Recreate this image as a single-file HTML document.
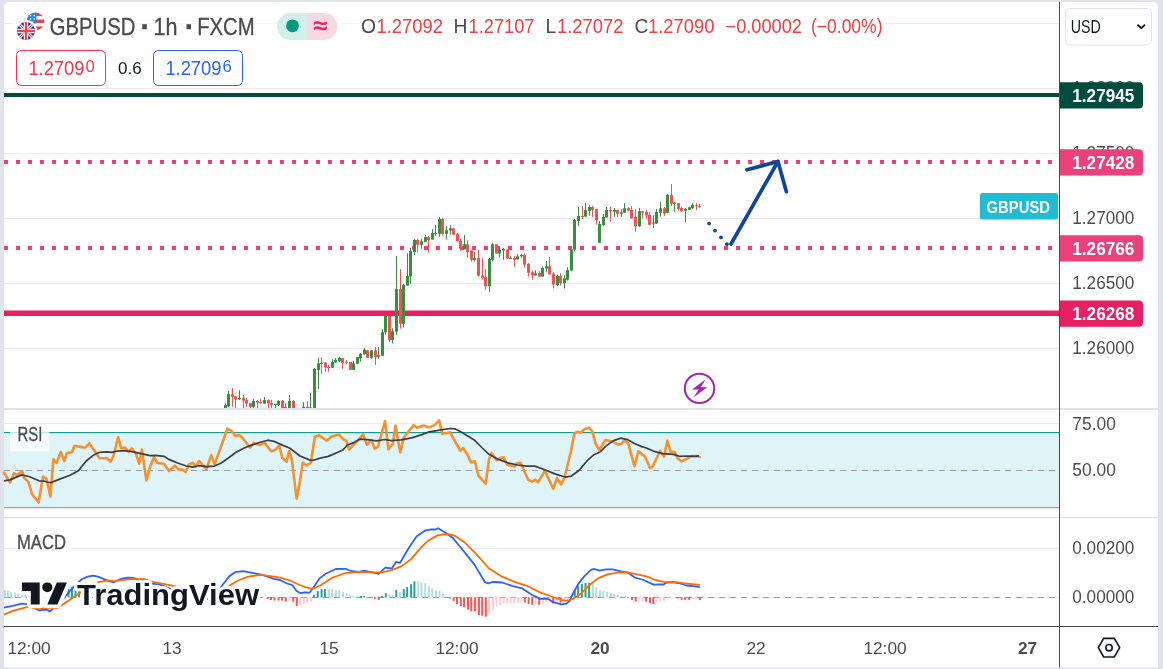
<!DOCTYPE html>
<html lang="en"><head><meta charset="utf-8"><title>GBPUSD 1h FXCM chart</title>
<style>
html,body{margin:0;padding:0;}
body{width:1163px;height:669px;background:#e0e3eb;overflow:hidden;position:relative;font-family:"Liberation Sans", sans-serif;}
</style></head><body>
<svg width="1163" height="669" viewBox="0 0 1163 669" style="position:absolute;left:0;top:0;font-family:"Liberation Sans", sans-serif">
<defs>
<clipPath id="cpMain"><rect x="4" y="2" width="1055" height="406"/></clipPath>
<clipPath id="cpUK"><circle cx="26" cy="31" r="9"/></clipPath>
<clipPath id="cpUS"><circle cx="35.5" cy="21.5" r="9"/></clipPath>
<mask id="mUS"><rect x="0" y="0" width="80" height="60" fill="#fff"/><circle cx="26" cy="31" r="11" fill="#000"/></mask>
</defs>
<g opacity="0.999">
<path d="M4 7a5 5 0 0 1 5-5H1153a5 5 0 0 1 5 5V667.5H4Z" fill="#fff"/>
<rect x="4" y="23.0" width="1055" height="1" fill="#ececee"/>
<rect x="4" y="88.0" width="1055" height="1" fill="#ececee"/>
<rect x="4" y="153.0" width="1055" height="1" fill="#ececee"/>
<rect x="4" y="218.0" width="1055" height="1" fill="#ececee"/>
<rect x="4" y="283.0" width="1055" height="1" fill="#ececee"/>
<rect x="4" y="348.0" width="1055" height="1" fill="#ececee"/>
<rect x="4" y="423.0" width="1055" height="1" fill="#ececee"/>
<rect x="4" y="548" width="1055" height="1" fill="#ececee"/>
<rect x="4" y="432.5" width="1055" height="75" fill="#def4f9"/>
<rect x="4" y="432" width="1055" height="1.2" fill="#1b998b"/>
<rect x="4" y="507" width="1055" height="1.2" fill="#ee7d80"/>
<line x1="4" y1="470.5" x2="1059" y2="470.5" stroke="#9b9ea5" stroke-width="1" stroke-dasharray="6,5"/>
<line x1="4" y1="597.5" x2="1059" y2="597.5" stroke="#eeeeef" stroke-width="1"/>
<line x1="4" y1="597.5" x2="1059" y2="597.5" stroke="#96969a" stroke-width="1" stroke-dasharray="6,5"/>
<rect x="4" y="408" width="1154" height="2" fill="#e0e3eb"/>
<rect x="4" y="517" width="1154" height="1.2" fill="#e0e3eb"/>
<g clip-path="url(#cpMain)">
<rect x="4" y="93" width="1055" height="4" fill="#004d40"/>
<rect x="4" y="310.5" width="1055" height="5.5" fill="#e91e63"/>
<line x1="4" y1="162" x2="1059" y2="162" stroke="#ec407a" stroke-width="4" stroke-dasharray="4,8"/>
<line x1="4" y1="248" x2="1059" y2="248" stroke="#ec407a" stroke-width="4" stroke-dasharray="4,8"/>
<rect x="225.0" y="403.4" width="1" height="4.6" fill="#388e3c"/>
<rect x="224.0" y="405.1" width="3" height="2.9" fill="#388e3c"/>
<rect x="228.0" y="391.0" width="1" height="15.8" fill="#388e3c"/>
<rect x="227.0" y="394.1" width="3" height="12.4" fill="#388e3c"/>
<rect x="232.0" y="388.1" width="1" height="18.7" fill="#ef5350"/>
<rect x="231.0" y="394.1" width="3" height="2.8" fill="#ef5350"/>
<rect x="235.0" y="396.2" width="1" height="11.8" fill="#ef5350"/>
<rect x="234.0" y="396.2" width="3" height="3.4" fill="#ef5350"/>
<rect x="239.0" y="390.2" width="1" height="9.8" fill="#388e3c"/>
<rect x="238.0" y="398.0" width="3" height="1.3" fill="#388e3c"/>
<rect x="243.0" y="395.1" width="1" height="12.9" fill="#ef5350"/>
<rect x="242.0" y="398.0" width="3" height="2.6" fill="#ef5350"/>
<rect x="246.0" y="398.0" width="1" height="8.8" fill="#ef5350"/>
<rect x="245.0" y="400.0" width="3" height="3.7" fill="#ef5350"/>
<rect x="250.0" y="403.2" width="1" height="4.8" fill="#ef5350"/>
<rect x="249.0" y="403.2" width="3" height="3.6" fill="#ef5350"/>
<rect x="253.0" y="399.1" width="1" height="8.9" fill="#388e3c"/>
<rect x="252.0" y="401.0" width="3" height="5.8" fill="#388e3c"/>
<rect x="257.0" y="400.0" width="1" height="8.0" fill="#ef5350"/>
<rect x="256.0" y="401.0" width="3" height="1.7" fill="#ef5350"/>
<rect x="260.0" y="399.1" width="1" height="4.6" fill="#ef5350"/>
<rect x="259.0" y="401.9" width="3" height="1.1" fill="#ef5350"/>
<rect x="264.0" y="397.0" width="1" height="6.7" fill="#388e3c"/>
<rect x="263.0" y="400.0" width="3" height="3.7" fill="#388e3c"/>
<rect x="268.0" y="399.3" width="1" height="8.7" fill="#ef5350"/>
<rect x="267.0" y="400.0" width="3" height="3.4" fill="#ef5350"/>
<rect x="271.0" y="400.0" width="1" height="8.0" fill="#ef5350"/>
<rect x="270.0" y="403.0" width="3" height="1.8" fill="#ef5350"/>
<rect x="275.0" y="404.0" width="1" height="4.0" fill="#388e3c"/>
<rect x="274.0" y="404.0" width="3" height="1.0" fill="#388e3c"/>
<rect x="278.0" y="400.0" width="1" height="6.0" fill="#388e3c"/>
<rect x="277.0" y="401.0" width="3" height="4.1" fill="#388e3c"/>
<rect x="282.0" y="400.0" width="1" height="8.0" fill="#ef5350"/>
<rect x="281.0" y="401.0" width="3" height="7.0" fill="#ef5350"/>
<rect x="285.0" y="403.4" width="1" height="4.6" fill="#ef5350"/>
<rect x="284.0" y="406.7" width="3" height="1.3" fill="#ef5350"/>
<rect x="289.0" y="395.0" width="1" height="13.0" fill="#388e3c"/>
<rect x="288.0" y="401.0" width="3" height="7.0" fill="#388e3c"/>
<rect x="293.0" y="400.0" width="1" height="8.0" fill="#ef5350"/>
<rect x="292.0" y="401.0" width="3" height="7.0" fill="#ef5350"/>
<rect x="303.0" y="402.1" width="1" height="5.9" fill="#388e3c"/>
<rect x="302.0" y="406.7" width="3" height="1.3" fill="#388e3c"/>
<rect x="307.0" y="401.2" width="1" height="6.8" fill="#ef5350"/>
<rect x="306.0" y="406.7" width="3" height="1.3" fill="#ef5350"/>
<rect x="310.0" y="392.9" width="1" height="15.1" fill="#388e3c"/>
<rect x="309.0" y="407.5" width="3" height="1.0" fill="#388e3c"/>
<rect x="314.0" y="368.0" width="1" height="40.0" fill="#388e3c"/>
<rect x="313.0" y="368.8" width="3" height="39.2" fill="#388e3c"/>
<rect x="318.0" y="357.8" width="1" height="31.0" fill="#388e3c"/>
<rect x="317.0" y="363.3" width="3" height="6.9" fill="#388e3c"/>
<rect x="321.0" y="357.1" width="1" height="16.5" fill="#ef5350"/>
<rect x="320.0" y="362.9" width="3" height="1.1" fill="#ef5350"/>
<rect x="325.0" y="362.0" width="1" height="9.6" fill="#ef5350"/>
<rect x="324.0" y="362.6" width="3" height="4.9" fill="#ef5350"/>
<rect x="328.0" y="364.7" width="1" height="6.9" fill="#ef5350"/>
<rect x="327.0" y="367.0" width="3" height="1.1" fill="#ef5350"/>
<rect x="332.0" y="359.2" width="1" height="8.5" fill="#388e3c"/>
<rect x="331.0" y="362.0" width="3" height="5.7" fill="#388e3c"/>
<rect x="335.0" y="358.1" width="1" height="4.5" fill="#388e3c"/>
<rect x="334.0" y="359.9" width="3" height="2.7" fill="#388e3c"/>
<rect x="339.0" y="356.9" width="1" height="5.1" fill="#388e3c"/>
<rect x="338.0" y="357.8" width="3" height="3.5" fill="#388e3c"/>
<rect x="342.0" y="358.2" width="1" height="10.6" fill="#ef5350"/>
<rect x="341.0" y="358.2" width="3" height="4.7" fill="#ef5350"/>
<rect x="346.0" y="360.2" width="1" height="3.8" fill="#ef5350"/>
<rect x="345.0" y="361.7" width="3" height="1.0" fill="#ef5350"/>
<rect x="350.0" y="362.0" width="1" height="7.8" fill="#ef5350"/>
<rect x="349.0" y="362.0" width="3" height="7.8" fill="#ef5350"/>
<rect x="353.0" y="361.0" width="1" height="8.8" fill="#388e3c"/>
<rect x="352.0" y="363.3" width="3" height="6.5" fill="#388e3c"/>
<rect x="357.0" y="357.1" width="1" height="6.6" fill="#388e3c"/>
<rect x="356.0" y="357.1" width="3" height="6.6" fill="#388e3c"/>
<rect x="360.0" y="353.0" width="1" height="8.7" fill="#388e3c"/>
<rect x="359.0" y="353.7" width="3" height="4.8" fill="#388e3c"/>
<rect x="364.0" y="347.9" width="1" height="6.5" fill="#388e3c"/>
<rect x="363.0" y="349.6" width="3" height="4.8" fill="#388e3c"/>
<rect x="367.0" y="350.3" width="1" height="7.5" fill="#ef5350"/>
<rect x="366.0" y="350.3" width="3" height="7.5" fill="#ef5350"/>
<rect x="371.0" y="350.3" width="1" height="8.6" fill="#388e3c"/>
<rect x="370.0" y="350.3" width="3" height="7.5" fill="#388e3c"/>
<rect x="375.0" y="347.1" width="1" height="17.9" fill="#ef5350"/>
<rect x="374.0" y="350.3" width="3" height="6.6" fill="#ef5350"/>
<rect x="378.0" y="347.1" width="1" height="11.8" fill="#388e3c"/>
<rect x="377.0" y="355.1" width="3" height="1.8" fill="#388e3c"/>
<rect x="382.0" y="328.9" width="1" height="26.9" fill="#388e3c"/>
<rect x="381.0" y="332.1" width="3" height="23.7" fill="#388e3c"/>
<rect x="385.0" y="314.8" width="1" height="19.8" fill="#388e3c"/>
<rect x="384.0" y="316.0" width="3" height="16.2" fill="#388e3c"/>
<rect x="389.0" y="315.8" width="1" height="26.0" fill="#ef5350"/>
<rect x="388.0" y="315.8" width="3" height="24.2" fill="#ef5350"/>
<rect x="392.0" y="328.2" width="1" height="15.3" fill="#388e3c"/>
<rect x="391.0" y="331.2" width="3" height="8.8" fill="#388e3c"/>
<rect x="396.0" y="256.0" width="1" height="78.6" fill="#388e3c"/>
<rect x="395.0" y="289.1" width="3" height="42.5" fill="#388e3c"/>
<rect x="400.0" y="269.0" width="1" height="59.6" fill="#ef5350"/>
<rect x="399.0" y="289.1" width="3" height="34.7" fill="#ef5350"/>
<rect x="403.0" y="283.8" width="1" height="43.8" fill="#388e3c"/>
<rect x="402.0" y="285.0" width="3" height="38.8" fill="#388e3c"/>
<rect x="407.0" y="253.2" width="1" height="32.3" fill="#388e3c"/>
<rect x="406.0" y="276.0" width="3" height="9.5" fill="#388e3c"/>
<rect x="410.0" y="247.8" width="1" height="36.0" fill="#388e3c"/>
<rect x="409.0" y="250.8" width="3" height="25.7" fill="#388e3c"/>
<rect x="414.0" y="238.9" width="1" height="15.9" fill="#388e3c"/>
<rect x="413.0" y="240.0" width="3" height="12.0" fill="#388e3c"/>
<rect x="417.0" y="238.9" width="1" height="13.7" fill="#ef5350"/>
<rect x="416.0" y="240.0" width="3" height="4.8" fill="#ef5350"/>
<rect x="421.0" y="238.9" width="1" height="9.9" fill="#388e3c"/>
<rect x="420.0" y="241.3" width="3" height="3.5" fill="#388e3c"/>
<rect x="425.0" y="235.0" width="1" height="6.9" fill="#388e3c"/>
<rect x="424.0" y="237.1" width="3" height="4.8" fill="#388e3c"/>
<rect x="428.0" y="235.9" width="1" height="16.7" fill="#ef5350"/>
<rect x="427.0" y="237.1" width="3" height="3.0" fill="#ef5350"/>
<rect x="432.0" y="229.1" width="1" height="10.4" fill="#388e3c"/>
<rect x="431.0" y="233.2" width="3" height="6.3" fill="#388e3c"/>
<rect x="435.0" y="225.1" width="1" height="10.8" fill="#388e3c"/>
<rect x="434.0" y="232.9" width="3" height="1.0" fill="#388e3c"/>
<rect x="439.0" y="217.1" width="1" height="19.7" fill="#388e3c"/>
<rect x="438.0" y="219.1" width="3" height="14.7" fill="#388e3c"/>
<rect x="442.0" y="217.9" width="1" height="17.7" fill="#ef5350"/>
<rect x="441.0" y="219.1" width="3" height="14.7" fill="#ef5350"/>
<rect x="446.0" y="226.1" width="1" height="13.4" fill="#388e3c"/>
<rect x="445.0" y="230.3" width="3" height="3.5" fill="#388e3c"/>
<rect x="450.0" y="225.1" width="1" height="9.6" fill="#388e3c"/>
<rect x="449.0" y="228.3" width="3" height="2.2" fill="#388e3c"/>
<rect x="453.0" y="228.3" width="1" height="6.4" fill="#ef5350"/>
<rect x="452.0" y="228.3" width="3" height="6.4" fill="#ef5350"/>
<rect x="457.0" y="232.9" width="1" height="8.4" fill="#ef5350"/>
<rect x="456.0" y="234.1" width="3" height="7.2" fill="#ef5350"/>
<rect x="460.0" y="238.3" width="1" height="12.5" fill="#ef5350"/>
<rect x="459.0" y="241.0" width="3" height="7.8" fill="#ef5350"/>
<rect x="464.0" y="235.0" width="1" height="14.3" fill="#388e3c"/>
<rect x="463.0" y="244.2" width="3" height="5.1" fill="#388e3c"/>
<rect x="467.0" y="240.1" width="1" height="17.7" fill="#ef5350"/>
<rect x="466.0" y="244.3" width="3" height="7.8" fill="#ef5350"/>
<rect x="471.0" y="250.5" width="1" height="11.1" fill="#ef5350"/>
<rect x="470.0" y="250.5" width="3" height="9.3" fill="#ef5350"/>
<rect x="474.0" y="252.1" width="1" height="9.5" fill="#388e3c"/>
<rect x="473.0" y="258.0" width="3" height="1.8" fill="#388e3c"/>
<rect x="478.0" y="250.0" width="1" height="26.6" fill="#ef5350"/>
<rect x="477.0" y="258.0" width="3" height="17.7" fill="#ef5350"/>
<rect x="482.0" y="258.3" width="1" height="21.3" fill="#ef5350"/>
<rect x="481.0" y="275.4" width="3" height="2.4" fill="#ef5350"/>
<rect x="485.0" y="269.2" width="1" height="20.5" fill="#ef5350"/>
<rect x="484.0" y="276.9" width="3" height="9.3" fill="#ef5350"/>
<rect x="489.0" y="258.0" width="1" height="33.9" fill="#388e3c"/>
<rect x="488.0" y="259.0" width="3" height="27.2" fill="#388e3c"/>
<rect x="492.0" y="243.1" width="1" height="18.3" fill="#388e3c"/>
<rect x="491.0" y="244.3" width="3" height="15.5" fill="#388e3c"/>
<rect x="496.0" y="244.3" width="1" height="9.2" fill="#ef5350"/>
<rect x="495.0" y="244.3" width="3" height="9.2" fill="#ef5350"/>
<rect x="499.0" y="247.9" width="1" height="9.6" fill="#388e3c"/>
<rect x="498.0" y="250.0" width="3" height="3.5" fill="#388e3c"/>
<rect x="503.0" y="247.9" width="1" height="11.9" fill="#388e3c"/>
<rect x="502.0" y="249.1" width="3" height="1.4" fill="#388e3c"/>
<rect x="507.0" y="249.4" width="1" height="9.2" fill="#ef5350"/>
<rect x="506.0" y="249.4" width="3" height="9.2" fill="#ef5350"/>
<rect x="510.0" y="256.0" width="1" height="2.9" fill="#388e3c"/>
<rect x="509.0" y="258.0" width="3" height="1.0" fill="#388e3c"/>
<rect x="514.0" y="256.0" width="1" height="10.7" fill="#ef5350"/>
<rect x="513.0" y="258.0" width="3" height="1.8" fill="#ef5350"/>
<rect x="517.0" y="254.2" width="1" height="5.3" fill="#388e3c"/>
<rect x="516.0" y="256.3" width="3" height="3.2" fill="#388e3c"/>
<rect x="521.0" y="253.9" width="1" height="3.9" fill="#388e3c"/>
<rect x="520.0" y="255.0" width="3" height="1.3" fill="#388e3c"/>
<rect x="524.0" y="253.3" width="1" height="14.3" fill="#ef5350"/>
<rect x="523.0" y="255.0" width="3" height="9.6" fill="#ef5350"/>
<rect x="528.0" y="263.0" width="1" height="13.6" fill="#ef5350"/>
<rect x="527.0" y="263.8" width="3" height="9.0" fill="#ef5350"/>
<rect x="532.0" y="270.2" width="1" height="9.4" fill="#ef5350"/>
<rect x="531.0" y="272.2" width="3" height="3.3" fill="#ef5350"/>
<rect x="535.0" y="270.2" width="1" height="5.3" fill="#388e3c"/>
<rect x="534.0" y="273.4" width="3" height="2.1" fill="#388e3c"/>
<rect x="539.0" y="271.2" width="1" height="5.4" fill="#ef5350"/>
<rect x="538.0" y="273.0" width="3" height="3.6" fill="#ef5350"/>
<rect x="542.0" y="266.4" width="1" height="10.2" fill="#388e3c"/>
<rect x="541.0" y="268.0" width="3" height="8.6" fill="#388e3c"/>
<rect x="546.0" y="261.0" width="1" height="10.8" fill="#388e3c"/>
<rect x="545.0" y="266.2" width="3" height="2.3" fill="#388e3c"/>
<rect x="549.0" y="257.1" width="1" height="17.3" fill="#ef5350"/>
<rect x="548.0" y="266.2" width="3" height="8.2" fill="#ef5350"/>
<rect x="553.0" y="272.2" width="1" height="16.3" fill="#ef5350"/>
<rect x="552.0" y="273.6" width="3" height="11.0" fill="#ef5350"/>
<rect x="557.0" y="274.8" width="1" height="11.0" fill="#388e3c"/>
<rect x="556.0" y="276.0" width="3" height="9.0" fill="#388e3c"/>
<rect x="560.0" y="273.2" width="1" height="12.4" fill="#ef5350"/>
<rect x="559.0" y="276.0" width="3" height="6.9" fill="#ef5350"/>
<rect x="564.0" y="275.2" width="1" height="13.3" fill="#388e3c"/>
<rect x="563.0" y="278.4" width="3" height="4.8" fill="#388e3c"/>
<rect x="567.0" y="267.3" width="1" height="13.2" fill="#388e3c"/>
<rect x="566.0" y="270.0" width="3" height="9.6" fill="#388e3c"/>
<rect x="571.0" y="249.3" width="1" height="21.3" fill="#388e3c"/>
<rect x="570.0" y="249.3" width="3" height="21.3" fill="#388e3c"/>
<rect x="574.0" y="218.9" width="1" height="32.6" fill="#388e3c"/>
<rect x="573.0" y="219.9" width="3" height="29.8" fill="#388e3c"/>
<rect x="578.0" y="207.0" width="1" height="18.8" fill="#388e3c"/>
<rect x="577.0" y="216.0" width="3" height="5.0" fill="#388e3c"/>
<rect x="582.0" y="206.1" width="1" height="12.9" fill="#ef5350"/>
<rect x="581.0" y="216.0" width="3" height="1.0" fill="#ef5350"/>
<rect x="585.0" y="203.1" width="1" height="13.5" fill="#388e3c"/>
<rect x="584.0" y="210.0" width="3" height="6.6" fill="#388e3c"/>
<rect x="589.0" y="204.9" width="1" height="10.8" fill="#388e3c"/>
<rect x="588.0" y="207.0" width="3" height="3.9" fill="#388e3c"/>
<rect x="592.0" y="206.1" width="1" height="10.8" fill="#ef5350"/>
<rect x="591.0" y="207.0" width="3" height="3.0" fill="#ef5350"/>
<rect x="596.0" y="209.1" width="1" height="15.5" fill="#ef5350"/>
<rect x="595.0" y="209.1" width="3" height="11.1" fill="#ef5350"/>
<rect x="599.0" y="221.0" width="1" height="21.7" fill="#388e3c"/>
<rect x="598.0" y="223.8" width="3" height="18.9" fill="#388e3c"/>
<rect x="603.0" y="213.9" width="1" height="12.3" fill="#388e3c"/>
<rect x="602.0" y="216.9" width="3" height="8.1" fill="#388e3c"/>
<rect x="606.0" y="207.0" width="1" height="10.5" fill="#388e3c"/>
<rect x="605.0" y="210.0" width="3" height="7.5" fill="#388e3c"/>
<rect x="610.0" y="207.0" width="1" height="14.6" fill="#ef5350"/>
<rect x="609.0" y="210.0" width="3" height="1.5" fill="#ef5350"/>
<rect x="614.0" y="207.9" width="1" height="9.0" fill="#388e3c"/>
<rect x="613.0" y="210.0" width="3" height="1.8" fill="#388e3c"/>
<rect x="617.0" y="210.0" width="1" height="6.9" fill="#ef5350"/>
<rect x="616.0" y="210.0" width="3" height="3.9" fill="#ef5350"/>
<rect x="621.0" y="209.1" width="1" height="7.8" fill="#388e3c"/>
<rect x="620.0" y="212.4" width="3" height="1.5" fill="#388e3c"/>
<rect x="624.0" y="203.1" width="1" height="9.6" fill="#388e3c"/>
<rect x="623.0" y="208.2" width="3" height="4.5" fill="#388e3c"/>
<rect x="628.0" y="207.0" width="1" height="4.5" fill="#ef5350"/>
<rect x="627.0" y="208.2" width="3" height="2.3" fill="#ef5350"/>
<rect x="631.0" y="206.1" width="1" height="12.9" fill="#ef5350"/>
<rect x="630.0" y="210.0" width="3" height="8.3" fill="#ef5350"/>
<rect x="635.0" y="209.1" width="1" height="22.7" fill="#ef5350"/>
<rect x="634.0" y="216.9" width="3" height="9.3" fill="#ef5350"/>
<rect x="639.0" y="207.9" width="1" height="19.1" fill="#388e3c"/>
<rect x="638.0" y="211.2" width="3" height="15.0" fill="#388e3c"/>
<rect x="642.0" y="211.2" width="1" height="7.3" fill="#ef5350"/>
<rect x="641.0" y="211.2" width="3" height="1.5" fill="#ef5350"/>
<rect x="646.0" y="210.0" width="1" height="8.5" fill="#ef5350"/>
<rect x="645.0" y="212.0" width="3" height="3.5" fill="#ef5350"/>
<rect x="649.0" y="211.9" width="1" height="12.9" fill="#ef5350"/>
<rect x="648.0" y="214.8" width="3" height="10.0" fill="#ef5350"/>
<rect x="653.0" y="215.2" width="1" height="12.8" fill="#388e3c"/>
<rect x="652.0" y="222.6" width="3" height="1.0" fill="#388e3c"/>
<rect x="656.0" y="208.9" width="1" height="14.7" fill="#388e3c"/>
<rect x="655.0" y="211.9" width="3" height="11.7" fill="#388e3c"/>
<rect x="660.0" y="202.0" width="1" height="14.6" fill="#388e3c"/>
<rect x="659.0" y="208.3" width="3" height="4.5" fill="#388e3c"/>
<rect x="664.0" y="206.8" width="1" height="9.0" fill="#ef5350"/>
<rect x="663.0" y="208.3" width="3" height="5.3" fill="#ef5350"/>
<rect x="667.0" y="193.9" width="1" height="18.9" fill="#388e3c"/>
<rect x="666.0" y="194.9" width="3" height="17.9" fill="#388e3c"/>
<rect x="671.0" y="184.1" width="1" height="21.8" fill="#ef5350"/>
<rect x="670.0" y="195.1" width="3" height="8.7" fill="#ef5350"/>
<rect x="674.0" y="201.7" width="1" height="10.2" fill="#388e3c"/>
<rect x="673.0" y="202.5" width="3" height="1.3" fill="#388e3c"/>
<rect x="678.0" y="203.2" width="1" height="7.5" fill="#ef5350"/>
<rect x="677.0" y="203.2" width="3" height="5.7" fill="#ef5350"/>
<rect x="681.0" y="206.8" width="1" height="5.1" fill="#ef5350"/>
<rect x="680.0" y="208.0" width="3" height="3.0" fill="#ef5350"/>
<rect x="685.0" y="208.0" width="1" height="14.0" fill="#388e3c"/>
<rect x="684.0" y="208.9" width="3" height="1.8" fill="#388e3c"/>
<rect x="689.0" y="206.5" width="1" height="3.3" fill="#388e3c"/>
<rect x="688.0" y="207.4" width="3" height="2.4" fill="#388e3c"/>
<rect x="692.0" y="203.2" width="1" height="5.7" fill="#388e3c"/>
<rect x="691.0" y="205.0" width="3" height="3.3" fill="#388e3c"/>
<rect x="696.0" y="203.2" width="1" height="6.9" fill="#ef5350"/>
<rect x="695.0" y="205.3" width="3" height="1.0" fill="#ef5350"/>
<rect x="699.0" y="204.1" width="1" height="3.9" fill="#ef5350"/>
<rect x="698.0" y="205.9" width="3" height="1.0" fill="#ef5350"/>
</g>
<g fill="none" stroke="#12469c" stroke-linecap="round" stroke-linejoin="round">
<circle cx="709.1" cy="223.6" r="1.9" fill="#12469c" stroke="none"/>
<circle cx="715" cy="230.6" r="1.9" fill="#12469c" stroke="none"/>
<circle cx="721" cy="237.4" r="1.9" fill="#12469c" stroke="none"/>
<circle cx="726.9" cy="244.2" r="1.9" fill="#12469c" stroke="none"/>
<path d="M731 244 L778 161.5" stroke-width="3.7"/>
<path d="M747 169.8 L778 161.5 L786.4 191.7" stroke-width="3.7"/>
</g>
<circle cx="699.5" cy="388.4" r="14.7" fill="none" stroke="#9c27b0" stroke-width="2"/>
<path d="M704.8 380.3 L692.8 389.2 L699.3 389.2 L694.3 396.6 L706.6 387.5 L700.4 387.5Z" fill="#9c27b0" stroke="#9c27b0" stroke-width="0.6" stroke-linejoin="round"/>
<polyline points="4.0,472.5 10.1,482.6 14.1,473.1 16.8,475.2 22.2,471.1 24.2,477.8 28.3,481.9 32.3,494.7 38.7,502.3 43.0,476.5 46.4,478.5 50.4,496.7 53.4,459.0 56.5,463.0 60.8,452.0 64.3,461.0 66.9,453.0 72.0,452.3 74.4,445.8 80.7,446.9 85.0,447.6 89.5,443.5 99.6,458.3 107.0,458.3 110.6,461.7 113.7,455.0 118.1,437.2 121.1,448.3 125.1,447.6 128.5,451.6 131.8,448.3 135.9,453.6 139.2,463.7 141.9,449.6 146.4,480.5 150.0,467.1 154.0,457.0 157.4,463.0 164.1,463.7 168.8,470.9 174.9,465.7 178.9,469.8 182.3,469.5 185.7,471.8 189.0,464.4 193.0,462.8 195.7,466.4 199.1,461.0 206.5,469.1 211.2,455.2 214.6,464.4 227.4,428.7 231.4,430.8 235.4,436.1 239.5,435.1 242.8,438.2 250.2,447.6 253.6,442.9 260.3,444.9 264.4,442.6 271.1,451.2 275.1,449.9 279.2,445.6 282.5,458.3 286.6,461.7 289.2,450.7 291.9,460.4 296.6,498.7 300.0,480.9 302.7,462.8 306.7,465.4 310.8,462.8 314.8,437.2 318.8,435.2 326.9,440.6 331.6,436.5 339.0,434.5 343.0,439.2 346.4,440.6 349.1,449.7 363.2,434.5 366.9,444.6 371.3,439.9 374.7,448.6 378.0,446.6 385.0,421.1 388.4,449.3 392.8,443.9 395.5,425.5 400.2,452.4 403.6,437.9 413.7,425.1 417.0,427.8 423.8,425.5 429.2,427.4 434.5,425.1 439.2,420.4 442.3,433.8 450.0,432.2 460.1,450.7 463.0,448.0 467.5,454.7 470.9,462.1 474.9,461.4 478.3,475.5 485.7,483.6 489.0,459.4 491.7,452.9 496.4,460.1 499.8,458.1 503.8,457.4 507.2,464.8 514.6,466.4 517.3,463.2 520.6,462.8 528.0,479.6 532.1,481.6 535.4,479.6 538.1,482.3 544.8,470.8 553.3,488.7 557.0,478.2 561.0,484.3 564.4,478.2 571.1,450.7 574.4,433.2 577.1,431.8 581.2,432.5 584.5,429.1 589.2,427.8 592.5,431.5 595.4,443.3 599.4,450.0 605.5,439.9 611.5,441.2 618.3,444.6 621.2,443.9 624.3,440.6 628.3,443.3 634.4,466.1 638.4,451.3 645.2,456.7 649.9,468.1 652.6,466.8 660.0,450.7 664.0,456.7 667.4,440.6 670.7,452.0 674.8,452.0 677.4,458.1 681.5,461.4 686.9,458.7 692.2,456.0 696.3,456.0 699.6,457.0" fill="none" stroke="#f7912f" stroke-width="2.6" stroke-linejoin="round" stroke-linecap="round"/>
<polyline points="4.0,480.8 10.1,479.9 21.5,474.9 28.9,476.5 39.0,480.8 44.4,481.2 50.4,482.8 57.8,479.9 70.0,475.2 78.7,470.4 86.1,461.0 94.2,454.7 99.6,452.3 106.3,451.9 111.7,452.3 117.0,451.2 123.8,450.7 131.8,451.6 141.3,453.6 150.0,455.6 155.4,455.4 164.1,456.3 168.8,459.4 176.9,462.8 186.3,466.0 193.0,467.1 198.4,465.7 206.5,466.7 214.6,466.1 221.3,463.0 228.0,458.3 236.1,452.3 244.2,448.0 252.2,444.9 260.3,442.2 267.7,440.2 273.8,441.3 281.8,444.9 289.9,448.3 300.0,456.0 310.1,460.1 313.5,460.3 320.2,458.1 328.3,456.4 343.0,450.0 347.1,445.3 353.8,442.6 359.9,439.2 367.3,439.6 376.7,440.8 384.8,439.5 391.5,440.6 400.9,439.9 411.7,437.9 421.1,434.9 429.2,431.8 441.3,429.8 450.0,428.5 455.4,428.9 462.1,432.5 474.2,439.9 482.3,448.0 489.0,454.3 498.4,459.4 507.9,462.8 517.3,465.0 526.7,466.1 534.8,466.1 544.2,469.5 554.9,473.9 565.7,477.2 571.1,476.2 579.2,470.2 587.2,460.7 594.0,454.7 600.1,452.0 606.1,445.9 613.5,440.6 620.9,438.1 628.3,439.9 634.4,443.5 641.8,446.6 646.5,448.0 653.2,451.1 662.6,453.6 673.4,454.4 679.5,456.3 686.9,456.0 694.9,456.3 699.0,455.8" fill="none" stroke="#3c3f4a" stroke-width="1.7" stroke-linejoin="round"/>
<rect x="3.8" y="590.1" width="2" height="7.2" fill="#b2dfdb"/>
<rect x="6.9" y="590.8" width="2" height="6.5" fill="#b2dfdb"/>
<rect x="10.2" y="592.1" width="2" height="5.2" fill="#b2dfdb"/>
<rect x="13.9" y="592.7" width="2" height="4.6" fill="#b2dfdb"/>
<rect x="17.2" y="593.4" width="2" height="3.9" fill="#b2dfdb"/>
<rect x="21.0" y="594.0" width="2" height="3.3" fill="#b2dfdb"/>
<rect x="24.3" y="594.7" width="2" height="2.6" fill="#b2dfdb"/>
<rect x="64.0" y="591.0" width="2" height="6.3" fill="#26a69a"/>
<rect x="67.5" y="589.0" width="2" height="8.3" fill="#26a69a"/>
<rect x="71.0" y="587.0" width="2" height="10.3" fill="#26a69a"/>
<rect x="74.5" y="586.5" width="2" height="10.8" fill="#26a69a"/>
<rect x="78.0" y="588.0" width="2" height="9.3" fill="#26a69a"/>
<rect x="266.5" y="597.3" width="2" height="1.7" fill="#ff5252"/>
<rect x="270.0" y="597.3" width="2" height="2.7" fill="#ff5252"/>
<rect x="273.5" y="597.3" width="2" height="3.2" fill="#ff5252"/>
<rect x="277.5" y="597.3" width="2" height="3.2" fill="#ff5252"/>
<rect x="281.0" y="597.3" width="2" height="3.3" fill="#ff5252"/>
<rect x="284.8" y="597.3" width="2" height="4.4" fill="#ff5252"/>
<rect x="288.4" y="597.3" width="2" height="4.1" fill="#ffcdd2"/>
<rect x="292.2" y="597.3" width="2" height="4.4" fill="#ff5252"/>
<rect x="295.8" y="597.3" width="2" height="8.6" fill="#ff5252"/>
<rect x="299.0" y="597.3" width="2" height="8.2" fill="#ffcdd2"/>
<rect x="302.8" y="597.3" width="2" height="6.6" fill="#ffcdd2"/>
<rect x="306.1" y="597.3" width="2" height="5.4" fill="#ffcdd2"/>
<rect x="309.9" y="597.3" width="2" height="4.4" fill="#ffcdd2"/>
<rect x="313.0" y="594.8" width="2" height="2.5" fill="#26a69a"/>
<rect x="316.8" y="591.0" width="2" height="6.3" fill="#26a69a"/>
<rect x="320.6" y="589.1" width="2" height="8.2" fill="#26a69a"/>
<rect x="323.9" y="589.1" width="2" height="8.2" fill="#26a69a"/>
<rect x="327.8" y="589.1" width="2" height="8.2" fill="#b2dfdb"/>
<rect x="331.1" y="589.1" width="2" height="8.2" fill="#b2dfdb"/>
<rect x="334.9" y="590.2" width="2" height="7.1" fill="#b2dfdb"/>
<rect x="338.2" y="590.2" width="2" height="7.1" fill="#b2dfdb"/>
<rect x="342.0" y="591.9" width="2" height="5.4" fill="#b2dfdb"/>
<rect x="345.6" y="593.2" width="2" height="4.1" fill="#b2dfdb"/>
<rect x="348.9" y="594.8" width="2" height="2.5" fill="#b2dfdb"/>
<rect x="352.7" y="596.0" width="2" height="1.3" fill="#b2dfdb"/>
<rect x="356.3" y="596.2" width="2" height="1.1" fill="#b2dfdb"/>
<rect x="359.9" y="596.0" width="2" height="1.3" fill="#26a69a"/>
<rect x="363.2" y="596.0" width="2" height="1.3" fill="#26a69a"/>
<rect x="373.9" y="597.3" width="2" height="1.6" fill="#ff5252"/>
<rect x="377.7" y="597.3" width="2" height="2.8" fill="#ff5252"/>
<rect x="381.0" y="596.0" width="2" height="1.3" fill="#26a69a"/>
<rect x="384.8" y="593.2" width="2" height="4.1" fill="#26a69a"/>
<rect x="388.4" y="594.8" width="2" height="2.5" fill="#b2dfdb"/>
<rect x="391.7" y="595.3" width="2" height="2.0" fill="#b2dfdb"/>
<rect x="395.3" y="589.9" width="2" height="7.4" fill="#26a69a"/>
<rect x="399.1" y="591.9" width="2" height="5.4" fill="#b2dfdb"/>
<rect x="402.8" y="589.1" width="2" height="8.2" fill="#26a69a"/>
<rect x="406.1" y="587.1" width="2" height="10.2" fill="#26a69a"/>
<rect x="410.1" y="584.1" width="2" height="13.2" fill="#26a69a"/>
<rect x="413.4" y="581.2" width="2" height="16.1" fill="#26a69a"/>
<rect x="417.2" y="581.2" width="2" height="16.1" fill="#b2dfdb"/>
<rect x="420.4" y="582.2" width="2" height="15.1" fill="#b2dfdb"/>
<rect x="424.2" y="583.3" width="2" height="14.0" fill="#b2dfdb"/>
<rect x="427.8" y="585.8" width="2" height="11.5" fill="#b2dfdb"/>
<rect x="431.3" y="588.3" width="2" height="9.0" fill="#b2dfdb"/>
<rect x="435.0" y="590.4" width="2" height="6.9" fill="#b2dfdb"/>
<rect x="438.4" y="590.4" width="2" height="6.9" fill="#b2dfdb"/>
<rect x="442.0" y="593.5" width="2" height="3.8" fill="#b2dfdb"/>
<rect x="445.3" y="596.2" width="2" height="1.1" fill="#b2dfdb"/>
<rect x="449.1" y="597.3" width="2" height="1.3" fill="#ff5252"/>
<rect x="452.7" y="597.3" width="2" height="3.6" fill="#ff5252"/>
<rect x="456.0" y="597.3" width="2" height="6.6" fill="#ff5252"/>
<rect x="459.8" y="597.3" width="2" height="9.0" fill="#ff5252"/>
<rect x="463.1" y="597.3" width="2" height="9.9" fill="#ff5252"/>
<rect x="467.0" y="597.3" width="2" height="12.3" fill="#ff5252"/>
<rect x="470.3" y="597.3" width="2" height="14.0" fill="#ff5252"/>
<rect x="474.1" y="597.3" width="2" height="14.0" fill="#ff5252"/>
<rect x="477.9" y="597.3" width="2" height="17.8" fill="#ff5252"/>
<rect x="481.2" y="597.3" width="2" height="18.4" fill="#ff5252"/>
<rect x="484.8" y="597.3" width="2" height="19.4" fill="#ff5252"/>
<rect x="488.1" y="597.3" width="2" height="16.5" fill="#ffcdd2"/>
<rect x="491.9" y="597.3" width="2" height="12.3" fill="#ffcdd2"/>
<rect x="495.5" y="597.3" width="2" height="9.0" fill="#ffcdd2"/>
<rect x="499.1" y="597.3" width="2" height="8.2" fill="#ffcdd2"/>
<rect x="502.6" y="597.3" width="2" height="6.6" fill="#ffcdd2"/>
<rect x="506.2" y="597.3" width="2" height="6.1" fill="#ffcdd2"/>
<rect x="509.8" y="597.3" width="2" height="6.1" fill="#ffcdd2"/>
<rect x="513.2" y="597.3" width="2" height="6.1" fill="#ffcdd2"/>
<rect x="516.9" y="597.3" width="2" height="5.4" fill="#ffcdd2"/>
<rect x="520.5" y="597.3" width="2" height="5.4" fill="#ffcdd2"/>
<rect x="523.9" y="597.3" width="2" height="5.4" fill="#ff5252"/>
<rect x="527.6" y="597.3" width="2" height="6.6" fill="#ff5252"/>
<rect x="531.2" y="597.3" width="2" height="7.4" fill="#ff5252"/>
<rect x="534.6" y="597.3" width="2" height="7.4" fill="#ffcdd2"/>
<rect x="538.2" y="597.3" width="2" height="7.4" fill="#ff5252"/>
<rect x="541.9" y="597.3" width="2" height="6.1" fill="#ffcdd2"/>
<rect x="545.3" y="597.3" width="2" height="4.9" fill="#ffcdd2"/>
<rect x="548.9" y="597.3" width="2" height="4.1" fill="#ffcdd2"/>
<rect x="552.2" y="597.3" width="2" height="6.1" fill="#ff5252"/>
<rect x="556.0" y="597.3" width="2" height="4.4" fill="#ffcdd2"/>
<rect x="559.6" y="597.3" width="2" height="5.4" fill="#ff5252"/>
<rect x="563.4" y="597.3" width="2" height="3.3" fill="#ffcdd2"/>
<rect x="566.7" y="597.3" width="2" height="2.5" fill="#ffcdd2"/>
<rect x="570.0" y="596.0" width="2" height="1.3" fill="#26a69a"/>
<rect x="573.8" y="589.9" width="2" height="7.4" fill="#26a69a"/>
<rect x="577.1" y="585.8" width="2" height="11.5" fill="#26a69a"/>
<rect x="580.9" y="584.1" width="2" height="13.2" fill="#26a69a"/>
<rect x="584.5" y="583.0" width="2" height="14.3" fill="#26a69a"/>
<rect x="588.1" y="583.0" width="2" height="14.3" fill="#26a69a"/>
<rect x="591.9" y="584.1" width="2" height="13.2" fill="#b2dfdb"/>
<rect x="595.2" y="587.1" width="2" height="10.2" fill="#b2dfdb"/>
<rect x="599.0" y="590.2" width="2" height="7.1" fill="#b2dfdb"/>
<rect x="602.3" y="591.0" width="2" height="6.3" fill="#b2dfdb"/>
<rect x="605.9" y="592.0" width="2" height="5.3" fill="#b2dfdb"/>
<rect x="609.7" y="593.2" width="2" height="4.1" fill="#b2dfdb"/>
<rect x="613.3" y="594.0" width="2" height="3.3" fill="#b2dfdb"/>
<rect x="616.9" y="595.2" width="2" height="2.1" fill="#b2dfdb"/>
<rect x="620.3" y="596.0" width="2" height="1.3" fill="#b2dfdb"/>
<rect x="624.0" y="596.5" width="2" height="0.8" fill="#b2dfdb"/>
<rect x="627.3" y="597.3" width="2" height="0.8" fill="#ff5252"/>
<rect x="631.0" y="597.3" width="2" height="2.8" fill="#ff5252"/>
<rect x="634.7" y="597.3" width="2" height="4.4" fill="#ff5252"/>
<rect x="638.3" y="597.3" width="2" height="4.4" fill="#ffcdd2"/>
<rect x="641.7" y="597.3" width="2" height="4.4" fill="#ffcdd2"/>
<rect x="645.0" y="597.3" width="2" height="4.4" fill="#ff5252"/>
<rect x="649.0" y="597.3" width="2" height="5.8" fill="#ff5252"/>
<rect x="652.3" y="597.3" width="2" height="6.6" fill="#ff5252"/>
<rect x="655.7" y="597.3" width="2" height="5.4" fill="#ffcdd2"/>
<rect x="659.3" y="597.3" width="2" height="3.8" fill="#ffcdd2"/>
<rect x="662.9" y="597.3" width="2" height="3.3" fill="#ffcdd2"/>
<rect x="666.7" y="597.3" width="2" height="1.1" fill="#ffcdd2"/>
<rect x="677.1" y="597.3" width="2" height="1.1" fill="#ff5252"/>
<rect x="680.7" y="597.3" width="2" height="2.5" fill="#ff5252"/>
<rect x="684.0" y="597.3" width="2" height="2.5" fill="#ff5252"/>
<rect x="687.8" y="597.3" width="2" height="2.5" fill="#ff5252"/>
<rect x="691.4" y="597.3" width="2" height="2.2" fill="#ffcdd2"/>
<rect x="695.0" y="597.3" width="2" height="2.2" fill="#ffcdd2"/>
<rect x="698.8" y="597.3" width="2" height="2.8" fill="#ff5252"/>
<polyline points="3.9,607.6 12.9,605.9 21.3,603.7 27.7,604.1 34.2,608.2 39.3,610.4 46.4,609.5 49.7,611.4 51.6,610.1 58.0,604.0 64.5,597.2 74.8,585.6 81.9,579.2 87.7,576.6 92.9,575.6 98.0,576.6 105.8,579.8 113.5,582.4 120.0,579.2 127.7,577.6 132.9,577.9 136.7,578.8 145.0,581.5 151.6,583.7 159.3,584.3 168.4,588.2 176.0,590.5 184.0,592.0 192.0,594.0 200.0,596.5 206.0,598.5 211.0,599.5 216.0,596.0 222.5,585.0 229.0,576.6 235.4,572.1 243.2,571.2 250.9,572.7 262.5,574.9 274.1,578.8 280.0,580.0 286.6,583.3 292.3,585.0 296.4,590.7 300.6,593.2 304.7,592.4 309.6,592.7 312.9,588.3 319.5,578.4 326.1,573.5 335.9,569.0 345.8,568.8 350.7,571.0 358.9,571.8 363.9,570.7 372.1,572.3 378.7,573.9 385.3,567.7 391.8,568.5 396.0,561.9 400.1,562.8 408.3,548.8 416.5,536.4 424.7,530.7 431.5,529.4 435.6,529.5 438.1,528.2 444.7,532.3 452.9,538.1 461.1,548.0 474.3,564.4 485.0,582.2 488.3,583.3 492.4,582.0 502.2,582.5 512.1,585.8 522.0,588.3 531.8,594.8 540.1,598.9 548.3,598.9 553.2,602.2 561.4,604.4 566.4,603.6 570.0,600.6 571.5,596.5 578.1,584.1 584.7,575.9 591.3,569.7 594.5,569.0 599.5,570.7 606.1,569.3 612.6,569.3 620.9,571.3 627.4,572.3 634.8,577.6 642.2,579.5 648.8,582.5 653.8,584.6 658.7,584.5 663.6,584.5 666.9,582.5 671.8,582.0 678.4,583.0 686.6,585.5 694.9,586.3 699.8,587.1" fill="none" stroke="#2962ff" stroke-width="1.8" stroke-linejoin="round"/>
<polyline points="3.9,614.6 12.9,610.8 27.7,606.9 37.4,608.6 56.8,608.2 61.3,605.6 80.0,592.7 97.4,582.4 107.1,580.5 114.8,581.1 123.8,579.8 134.1,578.8 144.5,579.2 152.9,581.8 165.8,584.3 172.2,585.6 182.0,588.0 192.0,590.5 202.0,593.0 210.0,594.5 217.0,593.5 224.0,590.0 230.3,585.2 238.0,580.5 248.3,576.6 260.0,574.9 274.1,576.6 280.0,577.6 289.9,580.5 299.7,585.0 306.3,587.4 312.9,588.8 321.1,585.0 332.6,577.6 345.8,573.0 358.9,571.8 372.1,572.3 382.0,572.3 391.8,570.2 401.7,566.1 411.6,558.7 421.4,547.1 428.2,540.6 438.1,535.1 447.1,534.0 454.5,535.6 464.4,542.2 475.9,553.7 489.1,568.5 502.2,576.7 515.4,582.2 526.9,585.8 540.1,592.4 551.6,596.5 561.4,599.8 566.6,600.9 573.2,598.9 581.4,593.2 589.6,585.0 597.8,578.4 607.7,574.3 617.6,572.6 627.4,572.3 637.3,574.3 647.2,576.7 655.4,580.0 665.3,582.2 675.1,582.2 685.0,583.3 699.8,585.0" fill="none" stroke="#ff6d00" stroke-width="1.8" stroke-linejoin="round"/>
<rect x="1059" y="2" width="1" height="665.5" fill="#4a4a4e"/>
<rect x="4" y="626" width="1154" height="1" fill="#4a4a4e"/>
<text x="1072.3" y="93.7" font-size="17.6" fill="#4c4c50" textLength="62" lengthAdjust="spacingAndGlyphs">1.28000</text>
<text x="1072.3" y="158.7" font-size="17.6" fill="#4c4c50" textLength="62" lengthAdjust="spacingAndGlyphs">1.27500</text>
<text x="1072.3" y="223.7" font-size="17.6" fill="#4c4c50" textLength="62" lengthAdjust="spacingAndGlyphs">1.27000</text>
<text x="1072.3" y="288.7" font-size="17.6" fill="#4c4c50" textLength="62" lengthAdjust="spacingAndGlyphs">1.26500</text>
<text x="1072.3" y="353.7" font-size="17.6" fill="#4c4c50" textLength="62" lengthAdjust="spacingAndGlyphs">1.26000</text>
<text x="1072.3" y="429.7" font-size="17.6" fill="#4c4c50" textLength="43.5" lengthAdjust="spacingAndGlyphs">75.00</text>
<text x="1072.3" y="475.7" font-size="17.6" fill="#4c4c50" textLength="43.5" lengthAdjust="spacingAndGlyphs">50.00</text>
<text x="1072.3" y="554.2" font-size="17.6" fill="#4c4c50" textLength="62" lengthAdjust="spacingAndGlyphs">0.00200</text>
<text x="1072.3" y="603.2" font-size="17.6" fill="#4c4c50" textLength="62" lengthAdjust="spacingAndGlyphs">0.00000</text>
<path d="M1060 82.3 H1139 a4 4 0 0 1 4 4 V104.6 a4 4 0 0 1 -4 4 H1060Z" fill="#004d40"/>
<text x="1072.3" y="101.69999999999999" font-size="17.6" font-weight="bold" fill="#fff" textLength="62" lengthAdjust="spacingAndGlyphs">1.27945</text>
<path d="M1060 149.3 H1139 a4 4 0 0 1 4 4 V171.60000000000002 a4 4 0 0 1 -4 4 H1060Z" fill="#ec407a"/>
<text x="1072.3" y="168.70000000000002" font-size="17.6" font-weight="bold" fill="#fff" textLength="62" lengthAdjust="spacingAndGlyphs">1.27428</text>
<path d="M1060 235.2 H1139 a4 4 0 0 1 4 4 V257.5 a4 4 0 0 1 -4 4 H1060Z" fill="#ec407a"/>
<text x="1072.3" y="254.6" font-size="17.6" font-weight="bold" fill="#fff" textLength="62" lengthAdjust="spacingAndGlyphs">1.26766</text>
<path d="M1060 300.4 H1139 a4 4 0 0 1 4 4 V322.7 a4 4 0 0 1 -4 4 H1060Z" fill="#e91e63"/>
<text x="1072.3" y="319.79999999999995" font-size="17.6" font-weight="bold" fill="#fff" textLength="62" lengthAdjust="spacingAndGlyphs">1.26268</text>
<rect x="980" y="193" width="78" height="26.5" rx="2.5" fill="#1fbcd3"/>
<text x="986.5" y="212.6" font-size="16.6" font-weight="bold" fill="#fff" textLength="63.5" lengthAdjust="spacingAndGlyphs">GBPUSD</text>
<rect x="1065.5" y="8.5" width="86" height="36.5" rx="5" fill="#fff" stroke="#e0e3eb"/>
<text x="1070.8" y="32.8" font-size="17.6" fill="#131722" textLength="30" lengthAdjust="spacingAndGlyphs">USD</text>
<path d="M1137.5 24.6 L1141.3 28.2 L1145.1 24.6" fill="none" stroke="#131722" stroke-width="1.9"/>
<text x="29" y="653.8" font-size="17.3" text-anchor="middle" fill="#4c4c50">12:00</text>
<text x="172" y="653.8" font-size="17.3" text-anchor="middle" fill="#4c4c50">13</text>
<text x="329" y="653.8" font-size="17.3" text-anchor="middle" fill="#4c4c50">15</text>
<text x="457" y="653.8" font-size="17.3" text-anchor="middle" fill="#4c4c50">12:00</text>
<text x="600" y="653.8" font-size="17.3" text-anchor="middle" fill="#4c4c50" font-weight="bold">20</text>
<text x="756" y="653.8" font-size="17.3" text-anchor="middle" fill="#4c4c50">22</text>
<text x="885" y="653.8" font-size="17.3" text-anchor="middle" fill="#4c4c50">12:00</text>
<text x="1027.5" y="653.8" font-size="17.3" text-anchor="middle" fill="#4c4c50" font-weight="bold">27</text>
<polygon points="1119.7,647.7 1114.3,657.0 1103.7,657.0 1098.3,647.7 1103.7,638.4 1114.3,638.4" fill="none" stroke="#131722" stroke-width="1.6" stroke-linejoin="round"/>
<circle cx="1109" cy="647.7" r="3.2" fill="none" stroke="#131722" stroke-width="1.6"/>
<rect x="12" y="9" width="874" height="34" fill="#fff" fill-opacity="0.65"/>
<g mask="url(#mUS)"><g clip-path="url(#cpUS)">
<rect x="26" y="12" width="20" height="20" fill="#fff"/>
<rect x="26" y="12.6" width="20" height="3.5" fill="#ef4444"/>
<rect x="26" y="19.5" width="20" height="3.5" fill="#ef4444"/>
<rect x="26" y="26.4" width="20" height="3.5" fill="#ef4444"/>
<rect x="26" y="12" width="10.4" height="11.6" fill="#1e88e5"/>
<circle cx="30.6" cy="15.5" r="0.85" fill="#fff"/>
<circle cx="34.2" cy="15.5" r="0.85" fill="#fff"/>
<circle cx="30.6" cy="18.8" r="0.85" fill="#fff"/>
<circle cx="34.2" cy="18.8" r="0.85" fill="#fff"/>
<circle cx="32.4" cy="22" r="0.85" fill="#fff"/>
</g></g>
<g clip-path="url(#cpUK)">
<rect x="16" y="21" width="20" height="20" fill="#0d3b9e"/>
<path d="M17 22 L35 40 M35 22 L17 40" stroke="#fff" stroke-width="3"/>
<path d="M17 22 L35 40 M35 22 L17 40" stroke="#ef4444" stroke-width="1.1"/>
<path d="M26 21 V41 M16 31 H36" stroke="#fff" stroke-width="4.4"/>
<path d="M26 21 V41 M16 31 H36" stroke="#ef4444" stroke-width="2.3"/>
</g>
<text y="35" font-size="24" fill="#4a4a4e" stroke="#4a4a4e" stroke-width="0.3"><tspan x="49.8" textLength="85.5" lengthAdjust="spacingAndGlyphs">GBPUSD</tspan><tspan x="140.1" font-family="DejaVu Sans, sans-serif" font-weight="bold">·</tspan><tspan x="153.6" textLength="24" lengthAdjust="spacingAndGlyphs">1h</tspan><tspan x="184.3" font-family="DejaVu Sans, sans-serif" font-weight="bold">·</tspan><tspan x="197.2" textLength="57.5" lengthAdjust="spacingAndGlyphs">FXCM</tspan></text>
<path d="M290.5 13 H307 V40 H290.5 a13.5 13.5 0 0 1 0 -27Z" fill="#d3efe9"/>
<path d="M307 13 H323.7 a13.5 13.5 0 0 1 0 27 H307Z" fill="#fbd6e3"/>
<circle cx="292.5" cy="25.8" r="6.4" fill="#089981"/>
<text x="320.3" y="34.2" font-size="25" text-anchor="middle" fill="#e3245f" stroke="#e3245f" stroke-width="0.7">≈</text>
<text x="361" y="32.8" font-size="19.3" fill="#4c4c50">O</text>
<text x="376.5" y="32.8" font-size="19.3" fill="#f03e3e" textLength="66.5" lengthAdjust="spacingAndGlyphs">1.27092</text>
<text x="453.5" y="32.8" font-size="19.3" fill="#4c4c50">H</text>
<text x="468.5" y="32.8" font-size="19.3" fill="#f03e3e" textLength="66" lengthAdjust="spacingAndGlyphs">1.27107</text>
<text x="545.5" y="32.8" font-size="19.3" fill="#4c4c50">L</text>
<text x="557" y="32.8" font-size="19.3" fill="#f03e3e" textLength="66.5" lengthAdjust="spacingAndGlyphs">1.27072</text>
<text x="634.5" y="32.8" font-size="19.3" fill="#4c4c50">C</text>
<text x="648" y="32.8" font-size="19.3" fill="#f03e3e" textLength="66.5" lengthAdjust="spacingAndGlyphs">1.27090</text>
<text x="725.5" y="32.8" font-size="19.3" fill="#f03e3e" textLength="76.5" lengthAdjust="spacingAndGlyphs">−0.00002</text>
<text x="811" y="32.8" font-size="19.3" fill="#f03e3e" textLength="71.5" lengthAdjust="spacingAndGlyphs">(−0.00%)</text>
<rect x="16.5" y="50.5" width="89" height="35" rx="5" fill="#fff" stroke="#f23645"/>
<text x="28.4" y="74.9" font-size="19.3" fill="#f23645" textLength="56" lengthAdjust="spacingAndGlyphs">1.2709</text><text x="85.5" y="71.7" font-size="16.7" fill="#f23645">0</text>
<text x="118" y="74" font-size="17" fill="#131722">0.6</text>
<rect x="153.5" y="50.5" width="89" height="35" rx="5" fill="#fff" stroke="#2962ff"/>
<text x="165.4" y="74.9" font-size="19.3" fill="#2962ff" textLength="56" lengthAdjust="spacingAndGlyphs">1.2709</text><text x="222.5" y="71.7" font-size="16.7" fill="#2962ff">6</text>
<rect x="10" y="424" width="39.5" height="27.5" fill="#fff" fill-opacity="0.75"/>
<text x="17.5" y="441" font-size="19.3" fill="#4c4c50" stroke="#4c4c50" stroke-width="0.3" textLength="24.8" lengthAdjust="spacingAndGlyphs">RSI</text>
<rect x="16.5" y="529" width="55" height="24" fill="#fff"/>
<text x="17" y="548.8" font-size="19.3" fill="#4c4c50" stroke="#4c4c50" stroke-width="0.3" textLength="49" lengthAdjust="spacingAndGlyphs">MACD</text>
<g fill="#fff" stroke="#fff" stroke-width="6" stroke-linejoin="round">
<g transform="translate(21.9,577.45) scale(1.27,1.235)"><path d="M14 22H7V11H0V4h14v18zM28 22h-8l7.5-18h8L28 22z"/><circle cx="20" cy="8" r="4"/></g>
<text x="77" y="604.6" font-size="29.5" font-weight="bold" textLength="182" lengthAdjust="spacingAndGlyphs">TradingView</text>
</g>
<g fill="#131722">
<g transform="translate(21.9,577.45) scale(1.27,1.235)"><path d="M14 22H7V11H0V4h14v18zM28 22h-8l7.5-18h8L28 22z"/><circle cx="20" cy="8" r="4"/></g>
<text x="77" y="604.6" font-size="29.5" font-weight="bold" textLength="182" lengthAdjust="spacingAndGlyphs">TradingView</text>
</g>
</g>
</svg>
</body></html>
